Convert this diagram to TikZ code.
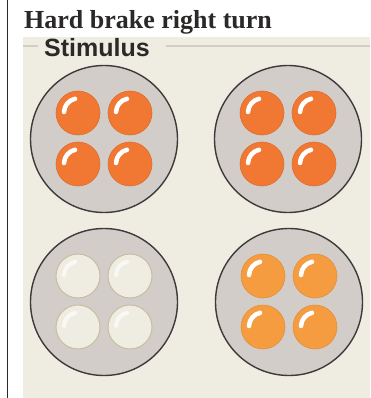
\documentclass[tikz,border=0pt]{standalone}
\usepackage{fontspec}
\setmainfont{Liberation Serif}
\newfontfamily\panelfont{Liberation Sans}
\usepackage{tikz}
\usetikzlibrary{positioning}

\definecolor{panelbg}{HTML}{EFECE2}
\definecolor{housingfill}{HTML}{D3CDCA}
\definecolor{housingline}{HTML}{3E3A3A}
\definecolor{brakeorange}{HTML}{F07832}
\definecolor{turnorange}{HTML}{F59C40}
\definecolor{lampoff}{HTML}{EFEDE2}
\definecolor{lampoffline}{HTML}{C9BCA2}
\definecolor{groupline}{HTML}{D2CEC4}
\definecolor{inkdark}{HTML}{2B2828}

\begin{document}
\begin{tikzpicture}[
    x=1pt, y=-1pt,
    housing/.style={circle, draw=housingline, line width=1.4pt, fill=housingfill, minimum size=147pt, inner sep=0pt},
    lamp/.style={circle, minimum size=44pt, inner sep=0pt},
    brake/.style={lamp, fill=brakeorange, draw=brakeorange!92!black, line width=0.6pt},
    turn/.style={lamp, fill=turnorange, draw=turnorange!92!black, line width=0.6pt},
    off/.style={lamp, fill=lampoff, draw=lampoffline, line width=1pt},
    glint/.style={white, line width=4.5pt, line cap=round},
    softglint/.style={white!60!lampoff, line width=4pt, line cap=round}
]
\useasboundingbox (0,0) rectangle (370,398);
\fill[white] (0,0) rectangle (370,398);

% frame and panel
\coordinate (rulet) at (7.5,0);
\coordinate (ruleb) at (7.5,398);
\draw[inkdark, line width=1.8pt] (rulet) -- (ruleb);
\fill[panelbg] (23,37) rectangle (370,398);

\node[anchor=base west, text=inkdark, font=\bfseries\fontsize{26}{26}\selectfont, inner sep=0pt] (title) at (24,29) {Hard brake right turn};
\node[anchor=base west, text=inkdark, font=\panelfont\bfseries\fontsize{25}{25}\selectfont, inner sep=0pt] (stim) at (44,57) {Stimulus};

\coordinate (gl) at (23,46);
\coordinate (gr) at (370,46);
\draw[groupline, line width=1.4pt] (gl) -- ([xshift=-6pt]stim.west |- gl);
\draw[groupline, line width=1.4pt] ([xshift=16pt]stim.east |- gr) -- (gr);

% housings
\node[housing] (tl) at (104,139) {};
\node[housing] (tr) at (288,139) {};
\node[housing] (bl) at (104,302) {};
\node[housing] (br) at (289,302) {};

% lamps
\foreach \h/\st in {tl/brake, tr/brake, bl/off, br/turn} {
  \node[\st] (\h1) at ([shift={(-26pt,26pt)}]\h.center) {};
  \node[\st] (\h2) at ([shift={(26pt,26pt)}]\h.center) {};
  \node[\st] (\h3) at ([shift={(-26pt,-25pt)}]\h.center) {};
  \node[\st] (\h4) at ([shift={(26pt,-25pt)}]\h.center) {};
}

% highlights
\foreach \h in {tl, tr, br} {
  \foreach \n in {1,2,3,4}
    \draw[glint] ([shift={(-14pt,1pt)}]\h\n.center) arc (178:102:14pt);
}
\foreach \n in {1,2,3,4}
  \draw[softglint] ([shift={(-14pt,1pt)}]bl\n.center) arc (178:102:14pt);
\end{tikzpicture}
\end{document}
